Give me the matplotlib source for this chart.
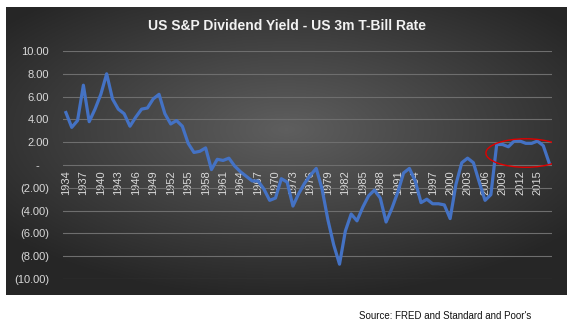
import numpy as np
import matplotlib.pyplot as plt
from matplotlib.patches import Ellipse

# Dividend yield minus 3m T-bill rate
years = list(range(1934, 2018))
spread = [4.6, 3.3, 3.9, 7.0, 3.8, 4.9, 6.2, 8.0, 5.8, 4.9,
          4.5, 3.4, 4.2, 4.9, 5.0, 5.8, 6.2, 4.5, 3.6, 3.9,
          3.4, 1.9, 1.1, 1.2, 1.5, -0.4, 0.5, 0.4, 0.6, -0.1,
          -0.6, -1.0, -1.4, -1.4, -2.1, -3.1, -2.9, -1.2, -1.5, -3.6,
          -2.5, -1.6, -0.9, -0.3, -2.1, -4.8, -7.0, -8.7, -5.8, -4.3,
          -4.9, -3.7, -2.7, -2.2, -2.9, -5.0, -3.8, -2.4, -0.7, -0.3,
          -1.4, -3.3, -3.0, -3.4, -3.4, -3.5, -4.7, -1.7, 0.2, 0.6,
          0.2, -1.5, -3.1, -2.6, 1.8, 1.8, 1.6, 2.1, 2.1, 1.9,
          1.9, 2.1, 1.7, 0.2]
y_ticks = [10, 8, 6, 4, 2, 0, -2, -4, -6, -8, -10]
y_labels = ["10.00", "8.00", "6.00", "4.00", "2.00", "-   ",
            "(2.00)", "(4.00)", "(6.00)", "(8.00)", "(10.00)"]

W, H = 578, 328
fig = plt.figure(figsize=(W / 100, H / 100), dpi=100)
fig.patch.set_facecolor("white")

# dark panel with radial gradient
bg = fig.add_axes([6 / W, (H - 295) / H, (567 - 6) / W, (295 - 7) / H])
gx, gy = np.meshgrid(np.linspace(-1, 1, 400), np.linspace(-1, 1, 200))
r = np.sqrt(gx ** 2 + ((gy + 0.15) * 1.1) ** 2)
shade = np.clip(0.37 - 0.17 * r, 0.15, 0.37)
bg.imshow(np.dstack([shade] * 3), aspect="auto", extent=[0, 1, 0, 1])
bg.axis("off")

ax = fig.add_axes([63 / W, (H - 279) / H, (552 - 63) / W, 228 / H])
ax.set_facecolor("none")
xs = np.arange(len(years))
ax.plot(xs, spread, color="#4472C4", lw=2.3, solid_joinstyle="round", zorder=3)

ax.set_xlim(-0.5, len(years) - 0.5)
ax.set_ylim(-10, 10)
ax.set_yticks(y_ticks)
ax.set_yticklabels(y_labels, fontsize=8, color="#d9d9d9", family="Liberation Sans")
ax.yaxis.grid(True, color="#6e6e6e", lw=0.8)
ax.set_axisbelow(True)

ax.spines["bottom"].set_position(("data", 0))
for s in ax.spines.values():
    s.set_visible(False)
ax.set_xticks(xs[::3])
ax.set_xticklabels([str(y) for y in years[::3]], rotation=90, fontsize=8,
                   color="#d9d9d9", family="Liberation Sans")
ax.tick_params(length=0)
ax.tick_params(axis="x", pad=4)
ax.tick_params(axis="y", pad=10)

# highlight of the recent period
ell = Ellipse((79.0, 1.05), 13.7, 2.5, fill=False, edgecolor="#e00000", lw=1.0, zorder=4)
ax.add_patch(ell)

fig.text(287 / W, 1 - 26 / H, "US S&P Dividend Yield - US 3m T-Bill Rate",
         ha="center", va="center", color="#f2f2f2", fontsize=10,
         fontweight="bold", family="Liberation Sans")
fig.text(445 / W, 1 - 316 / H, "Source: FRED and Standard and Poor's",
         ha="center", va="center", color="#111111", fontsize=7, family="Liberation Sans")

fig.savefig("out.png", dpi=100)
